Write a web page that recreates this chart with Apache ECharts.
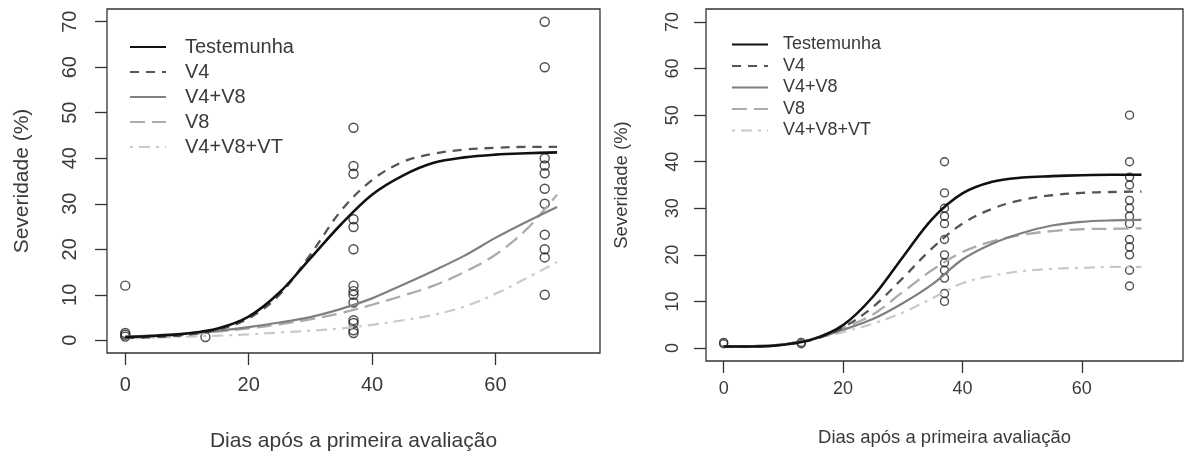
<!DOCTYPE html>
<html>
<head>
<meta charset="utf-8">
<style>
  body, html { margin: 0; padding: 0; width: 100%; height: 100%; overflow: hidden; background: #fff; }
  #chart { width: 1186px; height: 458px; }
</style>
</head>
<body>
<div id="chart"></div>
<script src="https://cdn.jsdelivr.net/npm/echarts@6/dist/echarts.min.js"></script>
<script>
  // dias das curvas ajustadas
  const curveDays = [0, 5, 10, 15, 20, 25, 30, 35, 40, 45, 50, 55, 60, 65, 70];

  // painel esquerdo - curvas
  const leftTestemunha = [0.7, 1.0, 1.5, 2.6, 5.2, 10.5, 18.0, 25.5, 32.0, 36.2, 39.0, 40.2, 40.8, 41.1, 41.3];
  const leftV4 = [0.5, 0.7, 1.2, 2.3, 4.8, 10.0, 18.8, 28.5, 35.2, 39.2, 41.0, 41.9, 42.3, 42.5, 42.5];
  const leftV4V8 = [0.8, 1.1, 1.5, 2.1, 2.9, 3.9, 5.1, 6.9, 9.2, 12.2, 15.3, 18.6, 22.5, 26.0, 29.3];
  const leftV8 = [0.6, 0.9, 1.3, 1.9, 2.6, 3.5, 4.6, 6.0, 7.8, 9.8, 12.0, 15.0, 18.8, 24.3, 32.0];
  const leftV4V8VT = [0.4, 0.6, 0.8, 1.0, 1.3, 1.7, 2.1, 2.6, 3.4, 4.4, 5.6, 7.4, 10.2, 13.6, 17.2];

  // painel esquerdo - observações
  const leftObsDays = [0, 13, 37, 68];
  const leftObs0 = [12.0, 1.6, 1.2, 0.8];
  const leftObs13 = [0.7];
  const leftObs37 = [46.7, 38.3, 36.6, 26.6, 24.9, 20.0, 12.0, 10.8, 10.0, 8.3, 4.4, 3.8, 2.2, 1.6];
  const leftObs68 = [70.0, 60.0, 40.0, 38.4, 36.7, 33.3, 30.0, 23.2, 20.0, 18.2, 10.0];

  // painel direito - curvas
  const rightTestemunha = [0.3, 0.3, 0.7, 1.9, 4.9, 11.0, 19.5, 27.8, 33.2, 35.7, 36.6, 36.9, 37.1, 37.2, 37.2];
  const rightV4 = [0.3, 0.3, 0.7, 1.8, 4.4, 8.8, 15.0, 21.5, 26.7, 29.9, 31.8, 32.8, 33.3, 33.5, 33.6];
  const rightV4V8 = [0.3, 0.4, 0.8, 1.9, 3.9, 6.2, 9.6, 13.7, 19.0, 22.4, 24.7, 26.3, 27.1, 27.4, 27.5];
  const rightV8 = [0.3, 0.4, 0.8, 2.0, 4.3, 7.2, 12.0, 16.8, 20.6, 22.9, 24.3, 25.1, 25.5, 25.6, 25.7];
  const rightV4V8VT = [0.3, 0.4, 0.8, 2.0, 3.4, 5.2, 7.6, 10.7, 13.9, 15.5, 16.5, 17.0, 17.2, 17.4, 17.4];

  // painel direito - observações
  const rightObsDays = [0, 13, 37, 68];
  const rightObs0 = [1.2, 0.9];
  const rightObs13 = [1.2, 0.9];
  const rightObs37 = [40.0, 33.3, 30.0, 28.3, 26.7, 23.3, 20.0, 18.3, 16.7, 15.0, 11.7, 10.0];
  const rightObs68 = [50.0, 40.0, 36.7, 35.0, 31.7, 30.0, 28.3, 26.7, 23.3, 21.7, 20.0, 16.7, 13.3];

  const treatmentNames = ["Testemunha", "V4", "V4+V8", "V8", "V4+V8+VT"];
  const xTicks = [0, 20, 40, 60];
  const yTicks = [0, 10, 20, 30, 40, 50, 60, 70];

  const styles = {
    "Testemunha": { color: "#111111", width: 2.6, type: "solid" },
    "V4": { color: "#555555", width: 2.3, type: [9, 7] },
    "V4+V8": { color: "#7f7f7f", width: 2.2, type: "solid" },
    "V8": { color: "#ababab", width: 2.3, type: [15, 7] },
    "V4+V8+VT": { color: "#c9c9c9", width: 2.2, type: [3, 6, 11, 6] },
  };

  const toPairs = (xs, ys) => xs.map((x, i) => [x, ys[i]]);
  const obsPairs = (days, groups) => {
    const out = [];
    groups.forEach((g, i) => g.forEach((v) => out.push([days[i], v])));
    return out;
  };

  const leftCurves = [leftTestemunha, leftV4, leftV4V8, leftV8, leftV4V8VT];
  const rightCurves = [rightTestemunha, rightV4, rightV4V8, rightV8, rightV4V8VT];

  const textColor = "#3a3a3a";
  const font = "Liberation Sans, Arial, sans-serif";

  const makeX = (idx, fs, nfs, margin, nameGap) => ({
    type: "value",
    gridIndex: idx,
    min: -2.96,
    max: 76.96,
    name: "Dias após a primeira avaliação",
    nameLocation: "middle",
    nameGap: nameGap,
    nameTextStyle: { fontSize: nfs, color: textColor, fontFamily: font },
    axisLine: { show: false, onZero: false },
    splitLine: { show: false },
    axisTick: {
      show: true,
      inside: false,
      length: 12,
      customValues: xTicks,
      lineStyle: { color: "#333", width: 1.3 },
    },
    axisLabel: {
      customValues: xTicks,
      fontSize: fs,
      color: textColor,
      fontFamily: font,
      margin: margin,
    },
  });

  const makeY = (idx, fs, nfs, margin, nameGap) => ({
    type: "value",
    gridIndex: idx,
    min: -2.8,
    max: 72.8,
    name: "Severidade (%)",
    nameLocation: "middle",
    nameGap: nameGap,
    nameTextStyle: { fontSize: nfs, color: textColor, fontFamily: font },
    axisLine: { show: false, onZero: false },
    splitLine: { show: false },
    axisTick: {
      show: true,
      inside: false,
      length: 12,
      customValues: yTicks,
      lineStyle: { color: "#333", width: 1.3 },
    },
    axisLabel: {
      customValues: yTicks,
      rotate: 90,
      fontSize: fs,
      color: textColor,
      fontFamily: font,
      margin: margin,
    },
  });

  const makeLegend = (left, top, fs, gap, pad) => ({
    data: treatmentNames,
    orient: "vertical",
    left: left,
    top: top,
    itemWidth: 36,
    itemHeight: 10,
    itemGap: gap,
    selectedMode: false,
    itemStyle: { opacity: 0 },
    textStyle: { fontSize: fs, color: textColor, fontFamily: font, padding: [0, 0, 0, pad] },
  });

  const series = [];
  [leftCurves, rightCurves].forEach((curves, gi) => {
    const obs = gi === 0
      ? obsPairs(leftObsDays, [leftObs0, leftObs13, leftObs37, leftObs68])
      : obsPairs(rightObsDays, [rightObs0, rightObs13, rightObs37, rightObs68]);
    series.push({
      type: "scatter",
      name: "obs" + gi,
      xAxisIndex: gi,
      yAxisIndex: gi,
      symbol: "circle",
      symbolSize: gi === 0 ? 9 : 8,
      itemStyle: { color: "rgba(255,255,255,0)", borderColor: "#222", borderWidth: 1.4 },
      data: obs,
      z: 2,
    });
    curves.forEach((vals, k) => {
      const name = treatmentNames[k];
      const st = styles[name];
      series.push({
        type: "line",
        name: name,
        xAxisIndex: gi,
        yAxisIndex: gi,
        data: toPairs(curveDays, vals),
        smooth: 0.35,
        symbol: "none",
        lineStyle: { color: st.color, width: st.width, type: st.type },
        itemStyle: { color: st.color },
        z: 3 + (4 - k),
      });
    });
  });

  const chart = echarts.init(document.getElementById("chart"));
  chart.setOption({
    animation: false,
    backgroundColor: "#fff",
    grid: [
      { left: 107, top: 9, width: 493, height: 344, show: true, borderColor: "#333", borderWidth: 1.3, backgroundColor: "transparent" },
      { left: 706, top: 9, width: 477, height: 352, show: true, borderColor: "#333", borderWidth: 1.3, backgroundColor: "transparent" },
    ],
    xAxis: [makeX(0, 20, 21, 22, 78), makeX(1, 18, 18.5, 19, 67)],
    yAxis: [makeY(0, 20, 21, 27, 74), makeY(1, 18, 18.5, 24, 75)],
    legend: [
      makeLegend(124, 32, 20, 5, 14),
      makeLegend(726, 30.5, 18, 3.5, 10),
    ],
    series: series,
  });
</script>
</body>
</html>
